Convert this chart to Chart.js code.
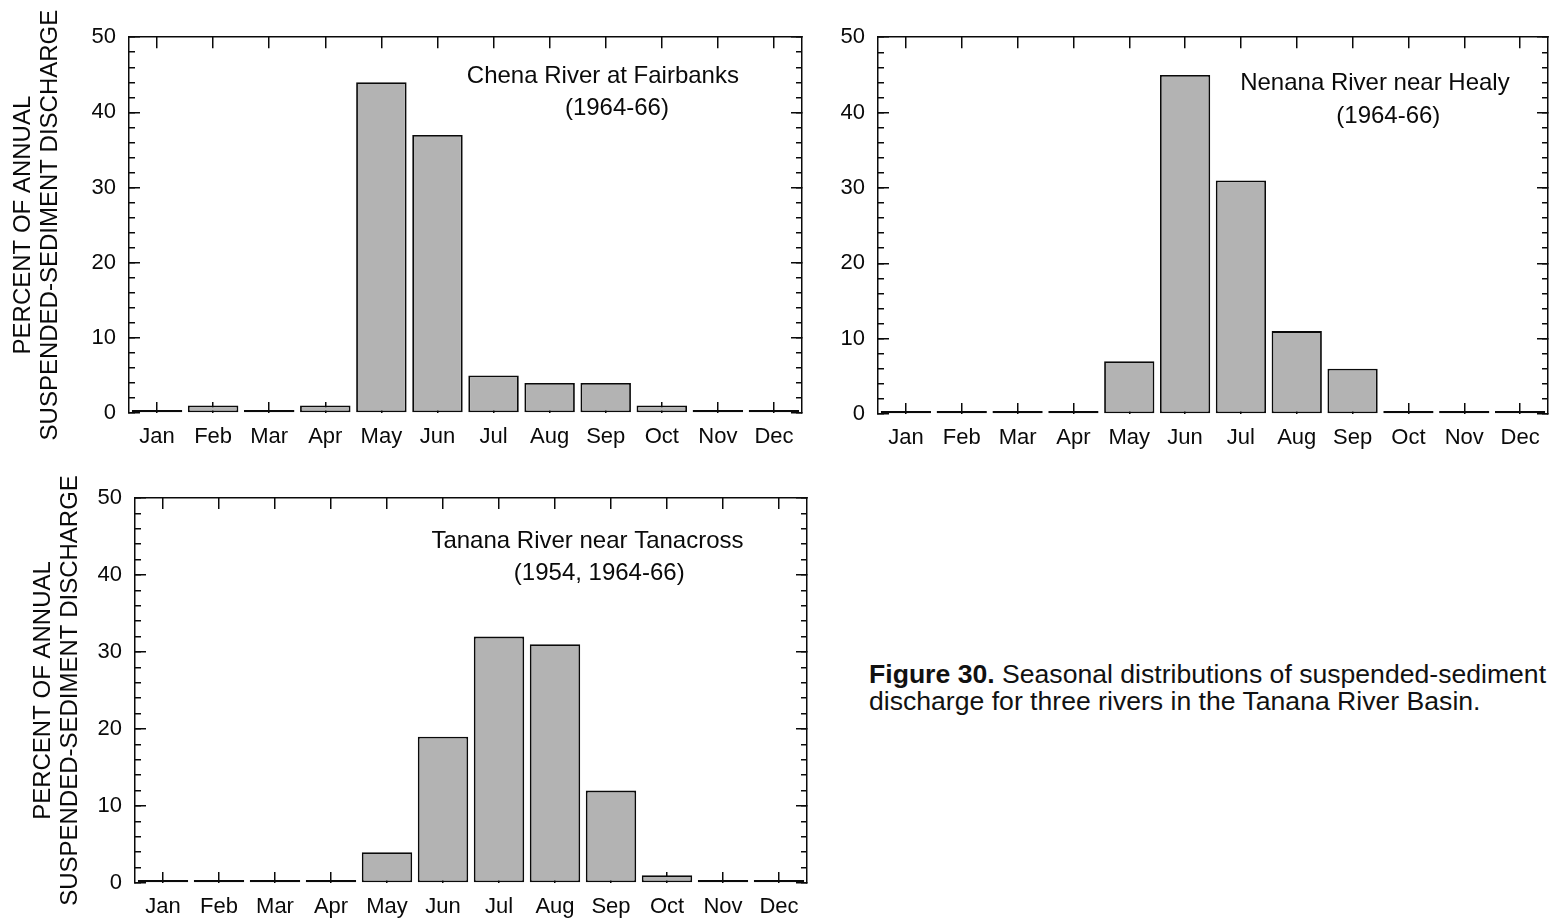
<!DOCTYPE html>
<html>
<head>
<meta charset="utf-8">
<script src="https://cdn.jsdelivr.net/npm/chart.js@4"></script>
<style>
  body { margin: 0; background: #fff; width: 1549px; height: 922px; position: relative; overflow: hidden; }
  canvas { position: absolute; }
  #caption {
    position: absolute; left: 869px; top: 661px;
    font-family: "Liberation Sans", Arial, sans-serif; font-size: 26.6px; line-height: 26.5px;
    color: #111; white-space: nowrap;
  }
</style>
</head>
<body>
<canvas id="chena" width="820" height="460" style="left:0;top:0"></canvas>
<canvas id="nenana" width="729" height="460" style="left:820px;top:0"></canvas>
<canvas id="tanana" width="820" height="462" style="left:0;top:460px"></canvas>
<div id="caption"><b>Figure 30.</b> Seasonal distributions of suspended-sediment<br>discharge for three rivers in the Tanana River Basin.</div>

<script>
// ---------- data ----------
const months = ["Jan", "Feb", "Mar", "Apr", "May", "Jun", "Jul", "Aug", "Sep", "Oct", "Nov", "Dec"];
const chenaPct  = [0, 1, 0, 1, 44, 37, 5, 4, 4, 1, 0, 0];
const nenanaPct = [0, 0, 0, 0, 7, 45, 31, 11, 6, 0, 0, 0];
const tananaPct = [0, 0, 0, 0, 4, 19, 32, 31, 12, 1, 0, 0];

const yMax = 50;
const majorStep = 10;
const minorStep = 2;
const yTitle = ["PERCENT OF ANNUAL", "SUSPENDED-SEDIMENT DISCHARGE"];

// station label text, anchored in data units: [category index, percent]
const chenaLabel  = [["Chena River at Fairbanks", 7.95, 43.9], ["(1964-66)", 8.2, 39.6]];
const nenanaLabel = [["Nenana River near Healy", 8.4, 43.0], ["(1964-66)", 8.64, 38.6]];
const tananaLabel = [["Tanana River near Tanacross", 7.58, 43.5], ["(1954, 1964-66)", 7.79, 39.35]];

// ---------- style ----------
const FONT = '"Liberation Sans", Arial, sans-serif';
const INK = "#0a0a0a";
const LINE = 1.5;

const stationLabel = {
    id: "stationLabel",
    afterDatasetsDraw(chart, args, opts) {
        const { ctx, scales } = chart;
        ctx.save();
        ctx.font = `24px ${FONT}`;
        ctx.fillStyle = INK;
        ctx.textAlign = "center";
        ctx.textBaseline = "alphabetic";
        (opts.lines || []).forEach(([text, ix, v]) => {
            ctx.fillText(text, scales.x.getPixelForValue(ix), scales.y.getPixelForValue(v));
        });
        ctx.restore();
    }
};

function tickGrid(len) {
    return { drawOnChartArea: false, offset: false, tickLength: -len, lineWidth: LINE, color: INK, tickColor: INK };
}

function makeChart(id, values, label, box) {
    const border = { display: true, color: INK, width: LINE };
    return new Chart(document.getElementById(id), {
        type: "bar",
        data: {
            labels: months,
            datasets: [{
                data: values,
                backgroundColor: "#b3b3b3",
                borderColor: INK,
                borderWidth: 1.8,
                borderSkipped: false,
                minBarLength: 3,
                barPercentage: 0.9,
                categoryPercentage: 1.0,
                xAxisID: "x",
                yAxisID: "y"
            }]
        },
        options: {
            responsive: false,
            animation: false,
            layout: { padding: { top: box.top, right: box.right, left: 0, bottom: 0 } },
            plugins: { legend: { display: false }, tooltip: { enabled: false }, stationLabel: { lines: label } },
            scales: {
                x: {
                    type: "category", position: "bottom", offset: true,
                    border: { display: false },
                    grid: tickGrid(11),
                    ticks: { font: { family: FONT, size: 22, lineHeight: 1.2 }, color: INK, padding: 22, maxRotation: 0, autoSkip: false },
                    afterFit: s => { s.height = box.bottom; s.paddingLeft = 0; s.paddingRight = 0; }
                },
                xTop: {
                    type: "category", position: "top", offset: true,
                    border: border,
                    grid: tickGrid(11),
                    ticks: { display: false },
                    afterFit: s => { s.height = 0; s.paddingLeft = 0; s.paddingRight = 0; }
                },
                y: {
                    position: "left", min: 0, max: yMax, weight: 1,
                    border: border,
                    grid: tickGrid(11),
                    ticks: { stepSize: majorStep, font: { family: FONT, size: 22 }, color: INK, padding: 24 },
                    title: {
                        display: box.title,
                        text: yTitle,
                        color: INK,
                        font: { family: FONT, size: 24, lineHeight: 1.146 },
                        padding: { top: box.titlePad, bottom: 0 }
                    },
                    afterFit: s => { s.width = box.left; }
                },
                yMinor: {
                    position: "left", min: 0, max: yMax, weight: 0,
                    border: { display: false },
                    grid: tickGrid(6),
                    ticks: { display: false, stepSize: minorStep },
                    afterFit: s => { s.width = 0; }
                },
                yRight: {
                    position: "right", min: 0, max: yMax, weight: 0,
                    border: border,
                    grid: tickGrid(11),
                    ticks: { display: false, stepSize: majorStep },
                    afterFit: s => { s.width = 0; }
                },
                yRightMinor: {
                    position: "right", min: 0, max: yMax, weight: 1,
                    border: { display: false },
                    grid: tickGrid(6),
                    ticks: { display: false, stepSize: minorStep },
                    afterFit: s => { s.width = 0; }
                }
            }
        },
        plugins: [stationLabel]
    });
}

// plot frames: chena 129..802 x 30..413, nenana 878..1548 x 31..414, tanana 135..807 x 498..883
makeChart("chena",  chenaPct,  chenaLabel,  { left: 129, right: 18, top: 30, bottom: 47, title: true,  titlePad: 9.5 });
makeChart("nenana", nenanaPct, nenanaLabel, { left: 58,  right: 1,  top: 31, bottom: 46, title: false, titlePad: 0 });
makeChart("tanana", tananaPct, tananaLabel, { left: 135, right: 13, top: 38, bottom: 39, title: true,  titlePad: 29.5 });
</script>
</body>
</html>
